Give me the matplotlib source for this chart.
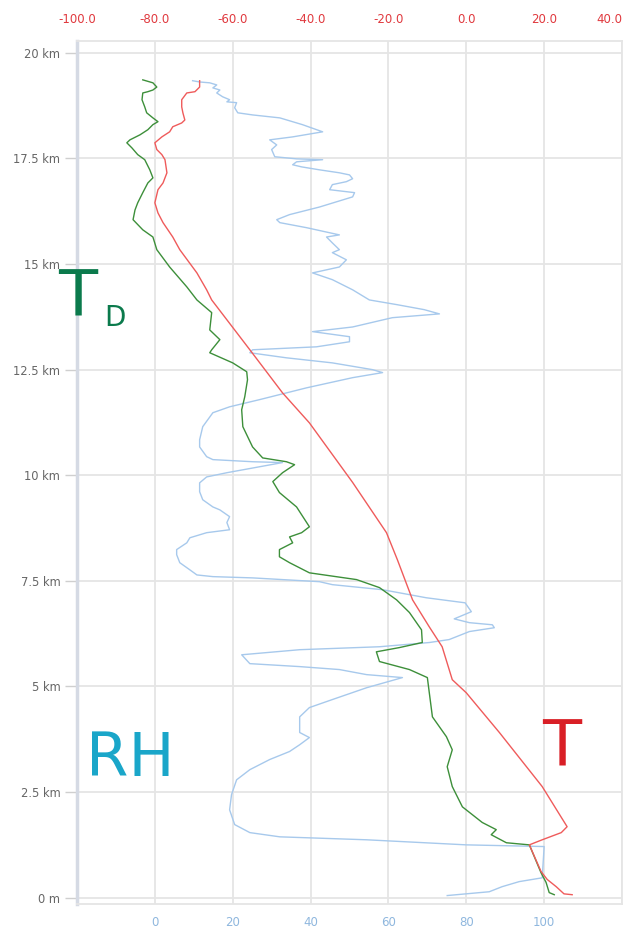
import matplotlib.pyplot as plt
import matplotlib.ticker as mticker

# sounding profile (altitude in km)
t_alt = [0.07, 0.09, 0.26, 0.43, 0.62, 1.25, 1.37, 1.54, 1.68, 2.63, 3.91, 4.85, 5.16, 5.94,
         6.41, 7.05, 8.0, 8.64, 9.83, 11.24, 11.95, 12.97, 14.15, 14.39, 14.79, 15.34, 15.64,
         15.98, 16.21, 16.45, 16.76, 16.92, 17.16, 17.47, 17.59, 17.71, 17.87, 18.01, 18.13,
         18.25, 18.34, 18.41, 18.58, 18.72, 18.89, 19.05, 19.08, 19.19, 19.34]
temp = [27.2, 25.1, 23.1, 20.8, 19.2, 16.2, 19.5, 24.4, 25.9, 19.5, 8.5, 0.0, -3.6, -6.2,
        -9.5, -13.8, -17.7, -20.5, -29.2, -40.3, -47.2, -55.6, -65.4, -66.7, -69.2, -73.6, -75.4,
        -77.9, -79.2, -80.0, -79.2, -77.9, -76.9, -77.4, -78.2, -79.5, -80.0, -78.2, -76.2,
        -75.4, -73.1, -72.3, -72.8, -73.1, -73.1, -71.8, -69.7, -68.5, -68.5]

td_alt = [0.07, 0.12, 0.36, 0.59, 1.25, 1.30, 1.49, 1.61, 1.78, 2.15, 2.63, 3.10, 3.50, 3.81,
          4.28, 4.85, 5.21, 5.40, 5.59, 5.82, 5.92, 6.04, 6.34, 6.75, 7.05, 7.34, 7.53, 7.69,
          7.93, 8.07, 8.24, 8.40, 8.54, 8.64, 8.78, 9.25, 9.59, 9.85, 10.06, 10.25, 10.32, 10.41,
          10.67, 11.15, 11.55, 11.86, 12.26, 12.45, 12.66, 12.90, 12.97, 13.21, 13.44, 13.85,
          14.15, 14.46, 14.93, 15.34, 15.64, 15.81, 16.05, 16.28, 16.45, 16.69, 16.92, 17.04,
          17.23, 17.47, 17.59, 17.75, 17.87, 17.94, 18.06, 18.18, 18.30, 18.37, 18.46, 18.58,
          18.72, 18.89, 19.05, 19.08, 19.12, 19.19, 19.29, 19.36]
dewpoint = [22.6, 21.3, 20.5, 19.2, 16.2, 10.3, 6.4, 7.7, 4.1, -1.0, -3.6, -4.9, -3.6, -5.1,
            -8.7, -9.5, -10.0, -14.6, -22.3, -23.1, -17.2, -11.3, -11.5, -14.6, -17.9, -22.3, -28.2, -40.3,
            -45.4, -48.0, -48.0, -44.6, -45.4, -42.3, -40.3, -43.6, -48.0, -49.7, -47.2, -44.1, -46.2, -52.3,
            -54.9, -57.4, -57.7, -56.9, -56.2, -56.4, -60.0, -65.9, -65.4, -63.3, -65.9, -65.4,
            -69.2, -71.8, -76.2, -79.5, -80.5, -83.1, -85.6, -85.1, -84.4, -83.1, -81.8, -80.5,
            -81.3, -82.6, -84.4, -85.9, -87.2, -86.4, -83.8, -81.8, -80.5, -79.2, -80.5, -82.1,
            -82.6, -83.3, -83.1, -81.8, -80.5, -79.5, -80.5, -83.1]

rh_alt = [0.05, 0.14, 0.26, 0.38, 0.47, 1.21, 1.25, 1.37, 1.44, 1.54, 1.73, 2.08, 2.44, 2.79,
          3.03, 3.27, 3.46, 3.62, 3.79, 3.91, 4.28, 4.50, 4.69, 4.97, 5.21, 5.28, 5.40, 5.47,
          5.54, 5.75, 5.87, 5.94, 6.04, 6.11, 6.30, 6.39, 6.46, 6.51, 6.60, 6.77, 6.98, 7.10,
          7.29, 7.41, 7.48, 7.57, 7.60, 7.64, 7.76, 7.93, 8.12, 8.24, 8.40, 8.52, 8.64, 8.71,
          8.88, 9.02, 9.18, 9.25, 9.42, 9.61, 9.82, 9.96, 10.06, 10.20, 10.30, 10.32, 10.37,
          10.44, 10.67, 10.84, 11.15, 11.48, 11.62, 11.79, 12.07, 12.31, 12.43, 12.50, 12.66,
          12.78, 12.90, 12.97, 13.04, 13.16, 13.28, 13.40, 13.51, 13.73, 13.82, 13.92, 14.04,
          14.15, 14.39, 14.63, 14.79, 14.93, 15.10, 15.27, 15.34, 15.50, 15.64, 15.69, 15.86,
          15.98, 16.05, 16.17, 16.35, 16.59, 16.69, 16.76, 16.88, 16.95, 17.02, 17.11, 17.16,
          17.23, 17.30, 17.35, 17.42, 17.47, 17.49, 17.54, 17.71, 17.82, 17.94, 18.01, 18.13,
          18.30, 18.46, 18.53, 18.58, 18.70, 18.82, 18.84, 18.89, 18.96, 19.05, 19.12, 19.17,
          19.24, 19.29, 19.31, 19.34]
rh = [75.1, 85.9, 89.2, 93.6, 99.5, 100.0, 80.0, 54.4, 32.1, 24.4, 20.5, 19.2, 19.7, 21.0,
      24.4, 29.5, 34.6, 37.2, 39.7, 37.2, 37.2, 39.7, 45.6, 54.4, 63.6, 54.4, 47.4, 37.2,
      24.4, 22.3, 37.2, 57.7, 70.5, 75.6, 80.8, 87.2, 86.7, 80.8, 76.9, 81.3, 79.7, 69.7,
      58.5, 45.6, 42.3, 25.1, 14.9, 10.8, 9.0, 6.4, 5.6, 5.6, 8.2, 9.0, 13.3, 19.2,
      18.5, 19.2, 16.7, 14.9, 12.3, 11.5, 11.5, 13.3, 18.5, 26.9, 32.8, 25.1, 14.9,
      13.3, 11.5, 11.5, 12.3, 14.9, 19.2, 26.9, 39.0, 50.8, 58.5, 55.9, 45.6,
      33.8, 24.4, 25.1, 41.5, 50.0, 50.0, 40.5, 50.8, 61.0, 73.1, 69.2, 62.1,
      55.1, 50.8, 45.6, 40.5, 47.4, 49.2, 45.6, 47.4, 45.6, 44.1, 47.4, 39.0,
      32.1, 31.3, 34.6, 42.3, 50.8, 51.3, 44.9, 45.6, 49.2, 50.8, 50.0, 47.4,
      42.3, 37.7, 35.4, 36.4, 43.1, 36.4, 30.8, 30.0, 31.3, 29.5, 35.4, 43.1,
      37.9, 32.1, 25.1, 21.3, 20.5, 21.0, 18.5, 19.2, 17.4, 15.9, 16.7, 14.9,
      15.9, 14.1, 11.5, 9.7]

alt_ticks = [0, 2.5, 5, 7.5, 10, 12.5, 15, 17.5, 20]
alt_labels = ["0 m", "2.5 km", "5 km", "7.5 km", "10 km", "12.5 km", "15 km", "17.5 km", "20 km"]
rh_ticks = [0, 20, 40, 60, 80, 100]
t_ticks = [-100, -80, -60, -40, -20, 0, 20, 40]

fig = plt.figure(figsize=(6.28, 9.33), dpi=100)
ax = fig.add_axes([77 / 628, 1 - 904 / 933, 545 / 628, 863 / 933])

grid_col = "#e5e5e5"
ax.set_xlim(-20, 120)
ax.set_ylim(-0.15, 20.28)
ax.set_xticks(range(-20, 121, 20), minor=True)
ax.set_xticks(rh_ticks)
ax.xaxis.set_major_formatter(mticker.FuncFormatter(lambda v, p: "%d" % v))
ax.set_yticks(alt_ticks)
ax.set_yticklabels(alt_labels)
ax.grid(True, which="both", color=grid_col, linewidth=1.3)
ax.tick_params(axis="x", which="both", length=0, pad=9, labelsize=8.5, labelcolor="#8fb7de")
ax.tick_params(axis="y", length=9, width=1, color="#cfcfcf", pad=3, labelsize=8.3,
               labelcolor="#666666")
for side in ["top", "right", "bottom"]:
    ax.spines[side].set_color(grid_col)
    ax.spines[side].set_linewidth(1.3)
ax.spines["left"].set_color("#d5dae4")
ax.spines["left"].set_linewidth(2.5)

ax.plot(rh, rh_alt, color="#a7c9ec", linewidth=1.0, zorder=3)

# temperatures share the same plot on a top axis
ax2 = ax.twiny()
ax2.set_xlim(-100, 40)
ax2.set_xticks(t_ticks)
ax2.set_xticklabels(["%.1f" % v for v in t_ticks])
ax2.get_xticklabels()[-1].set_horizontalalignment("right")
ax2.tick_params(axis="x", which="both", length=0, pad=11, labelsize=8.5, labelcolor="#e0393e")
for s in ax2.spines.values():
    s.set_visible(False)
ax2.plot(dewpoint, td_alt, color="#3d8f3a", linewidth=1.0, zorder=4)
ax2.plot(temp, t_alt, color="#ef5b5b", linewidth=1.0, zorder=5)

# hand-written annotations
fig.text(58 / 628, 1 - 298 / 933, "T", fontsize=46, color="#0b7a4c", va="center", ha="left")
fig.text(104 / 628, 1 - 318 / 933, "D", fontsize=20, color="#0b7a4c", va="center", ha="left")
fig.text(86 / 628, 1 - 760 / 933, "RH", fontsize=44, color="#1aa6c9", va="center", ha="left")
fig.text(542 / 628, 1 - 748 / 933, "T", fontsize=46, color="#d91f26", va="center", ha="left")

fig.savefig("out.png", dpi=100)
